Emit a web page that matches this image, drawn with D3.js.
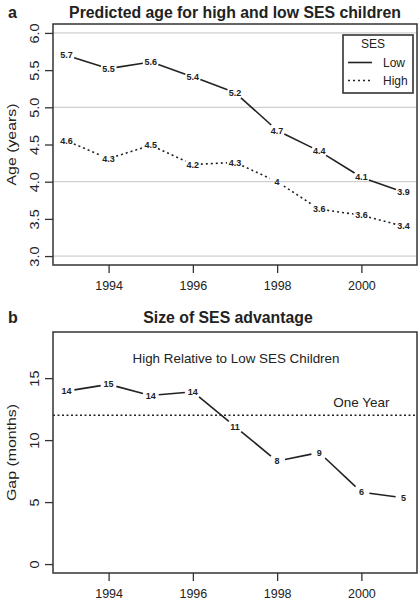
<!DOCTYPE html>
<html>
<head>
<meta charset="utf-8">
<script src="https://cdn.jsdelivr.net/npm/d3@7"></script>
<style>
  html, body { margin: 0; padding: 0; background: #fff; }
  svg { display: block; font-family: "Liberation Sans", Arial, sans-serif; }
</style>
</head>
<body>
<svg id="chart" width="418" height="600"></svg>
<script>
// ---- data ----
const years = [1993, 1994, 1995, 1996, 1997, 1998, 1999, 2000, 2001];
const lowAge = [5.70, 5.52, 5.61, 5.41, 5.20, 4.69, 4.41, 4.06, 3.86];
const lowLabels = ["5.7", "5.5", "5.6", "5.4", "5.2", "4.7", "4.4", "4.1", "3.9"];
const highAge = [4.55, 4.31, 4.49, 4.23, 4.26, 4.00, 3.63, 3.55, 3.40];
const highLabels = ["4.6", "4.3", "4.5", "4.2", "4.3", "4", "3.6", "3.6", "3.4"];
const gapMonths = [13.95, 14.5, 13.6, 13.9, 11.1, 8.3, 9.0, 5.8, 5.35];
const gapLabels = ["14", "15", "14", "14", "11", "8", "9", "6", "5"];
const xTicks = [1994, 1996, 1998, 2000];
const ageTicks = [3.0, 3.5, 4.0, 4.5, 5.0, 5.5, 6.0];
const ageGrid = [3, 4, 5, 6];
const gapTicks = [0, 5, 10, 15];
const oneYear = 12;
const seriesNames = ["Low", "High"];

// ---- layout ----
const svg = d3.select("#chart");
const L = 53, R = 417;
const ink = "#222";
const boxInk = "#333";
const vStretch = 1.16; // rotated text appears stretched along its length

const x = d3.scaleLinear().domain([1992.68, 2001.32]).range([L, R]);
const yA = d3.scaleLinear().domain([2.88, 6.12]).range([265, 24]);
const yB = d3.scaleLinear().domain([-0.72, 18.72]).range([573, 332]);

function brokenSegments(xs, ys, r) {
  const segs = [];
  for (let i = 0; i < xs.length - 1; i++) {
    const x1 = xs[i], y1 = ys[i], x2 = xs[i + 1], y2 = ys[i + 1];
    const dx = x2 - x1, dy = y2 - y1, len = Math.hypot(dx, dy);
    if (len <= 2 * r) continue;
    const ux = dx / len, uy = dy / len;
    segs.push([x1 + ux * r, y1 + uy * r, x2 - ux * r, y2 - uy * r]);
  }
  return segs;
}

function drawPanel(yScale, top, bottom, yTicks, fmt, yTitle) {
  const g = svg.append("g");
  // x axis
  const xa = g.append("g").attr("transform", `translate(0,${bottom})`)
    .call(d3.axisBottom(x).tickValues(xTicks).tickFormat(d3.format("d")).tickSize(8).tickPadding(8));
  xa.select(".domain").remove();
  xa.selectAll("line").attr("stroke", boxInk).attr("stroke-width", 1.3);
  xa.selectAll("text").attr("font-size", "12.5px").attr("fill", ink)
    .attr("font-family", "Liberation Sans, Arial, sans-serif");
  // y axis
  const ya = g.append("g").attr("transform", `translate(${L},0)`)
    .call(d3.axisLeft(yScale).tickValues(yTicks).tickFormat(fmt).tickSize(8));
  ya.select(".domain").remove();
  ya.selectAll("line").attr("stroke", boxInk).attr("stroke-width", 1.3);
  ya.selectAll("text")
    .attr("x", null).attr("dy", "0.35em")
    .attr("text-anchor", "middle")
    .attr("transform", `translate(-18,0) rotate(-90) scale(${vStretch},1)`)
    .attr("font-size", "12.5px").attr("fill", ink)
    .attr("font-family", "Liberation Sans, Arial, sans-serif");
  // y title
  g.append("text")
    .attr("transform", `translate(11,${(top + bottom) / 2}) rotate(-90) scale(${vStretch},1)`)
    .attr("dy", "0.35em").attr("text-anchor", "middle")
    .attr("font-size", "13.7px").attr("fill", ink)
    .text(yTitle);
  return g;
}

// ===== Panel a =====
const gA = drawPanel(yA, 24, 265, ageTicks, d3.format(".1f"), "Age (years)");
gA.selectAll(".grid").data(ageGrid).enter().append("line")
  .attr("x1", L).attr("x2", R)
  .attr("y1", d => yA(d)).attr("y2", d => yA(d))
  .attr("stroke", "#c4c4c4").attr("stroke-width", 1);

function drawSeries(g, vals, labels, yScale, dash, r) {
  const xs = years.map(d => x(d));
  const ys = vals.map(d => yScale(d));
  g.append("g").selectAll("line").data(brokenSegments(xs, ys, r)).enter().append("line")
    .attr("x1", d => d[0]).attr("y1", d => d[1]).attr("x2", d => d[2]).attr("y2", d => d[3])
    .attr("stroke", ink).attr("stroke-width", 1.6)
    .attr("stroke-dasharray", dash);
  g.append("g").selectAll("text").data(labels).enter().append("text")
    .attr("x", (d, i) => xs[i]).attr("y", (d, i) => ys[i])
    .attr("dy", "0.35em").attr("text-anchor", "middle")
    .attr("font-size", "9px").attr("font-weight", "bold").attr("fill", ink)
    .text(d => d);
}
drawSeries(gA, lowAge, lowLabels, yA, null, 8);
drawSeries(gA, highAge, highLabels, yA, "2,3", 8);

gA.append("rect").attr("x", L).attr("y", 24).attr("width", R - L).attr("height", 265 - 24)
  .attr("fill", "none").attr("stroke", boxInk).attr("stroke-width", 1.5);

// legend
const lg = gA.append("g");
lg.append("rect").attr("x", 343).attr("y", 35).attr("width", 70).attr("height", 58)
  .attr("fill", "#fff").attr("stroke", boxInk).attr("stroke-width", 1.6);
lg.append("text").attr("x", 373).attr("y", 43.5).attr("dy", "0.35em").attr("text-anchor", "middle")
  .attr("font-size", "12px").attr("fill", ink).text("SES");
const legDash = [null, "2,3"];
const legY = [62.5, 80.5];
seriesNames.forEach((name, i) => {
  lg.append("line").attr("x1", 348).attr("x2", 372).attr("y1", legY[i]).attr("y2", legY[i])
    .attr("stroke", ink).attr("stroke-width", 1.6).attr("stroke-dasharray", legDash[i]);
  lg.append("text").attr("x", 383).attr("y", legY[i]).attr("dy", "0.35em")
    .attr("font-size", "12px").attr("fill", ink).text(name);
});

svg.append("text").attr("x", 8).attr("y", 18).attr("font-size", "16px").attr("font-weight", "bold")
  .attr("fill", ink).text("a");
svg.append("text").attr("x", 235).attr("y", 17.5).attr("text-anchor", "middle")
  .attr("font-size", "15.8px").attr("font-weight", "bold").attr("fill", ink)
  .text("Predicted age for high and low SES children");

// ===== Panel b =====
const gB = drawPanel(yB, 332, 573, gapTicks, d3.format("d"), "Gap (months)");
gB.append("line").attr("x1", L).attr("x2", R).attr("y1", yB(oneYear)).attr("y2", yB(oneYear))
  .attr("stroke", ink).attr("stroke-width", 1.5).attr("stroke-dasharray", "2,2.5");
gB.append("text").attr("x", x(2000)).attr("y", yB(oneYear) - 8).attr("text-anchor", "middle")
  .attr("font-size", "13.5px").attr("fill", ink).text("One Year");
gB.append("text").attr("x", 236).attr("y", 358).attr("dy", "0.35em").attr("text-anchor", "middle")
  .attr("font-size", "13.4px").attr("fill", ink).text("High Relative to Low SES Children");
drawSeries(gB, gapMonths, gapLabels, yB, null, 8);
gB.append("rect").attr("x", L).attr("y", 332).attr("width", R - L).attr("height", 573 - 332)
  .attr("fill", "none").attr("stroke", boxInk).attr("stroke-width", 1.5);

svg.append("text").attr("x", 8).attr("y", 323).attr("font-size", "16px").attr("font-weight", "bold")
  .attr("fill", ink).text("b");
svg.append("text").attr("x", 228).attr("y", 322.5).attr("text-anchor", "middle")
  .attr("font-size", "15.8px").attr("font-weight", "bold").attr("fill", ink)
  .text("Size of SES advantage");
</script>
</body>
</html>
